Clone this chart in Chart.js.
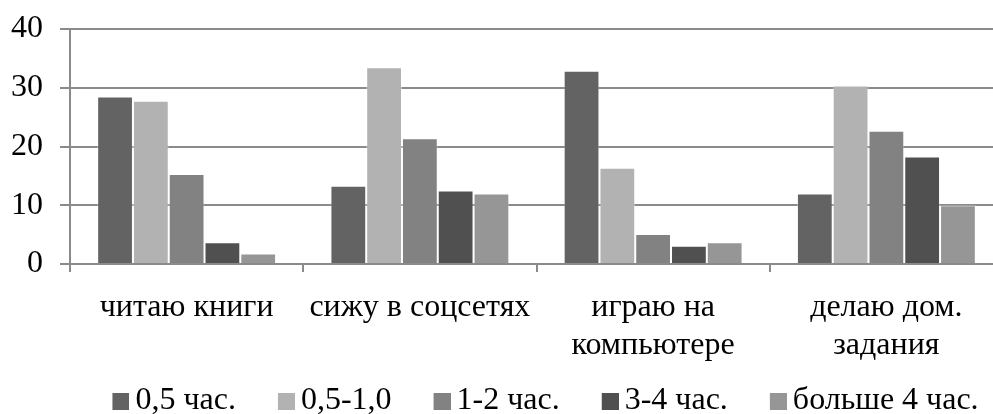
<!DOCTYPE html>
<html>
<head>
<meta charset="utf-8">
<script src="https://cdn.jsdelivr.net/npm/chart.js@4"></script>
<style>
  html, body { margin: 0; padding: 0; overflow: hidden; background: #fff; }
  #wrap { width: 1091px; height: 427px; }
</style>
</head>
<body>
<div id="wrap"><canvas id="chart" width="1091" height="427"></canvas></div>
<script>
// categories (x axis), multi-line as in the picture
const categories = [
    ['читаю книги'],
    ['сижу в соцсетях'],
    ['играю на', 'компьютере'],
    ['делаю дом.', 'задания']
];

// series names
const seriesNames = ['0,5 час.', '0,5-1,0', '1-2 час.', '3-4 час.', 'больше 4 час.'];

// values per series, one per category
const half = [28.5, 13.3, 32.9, 12.0];
const halfToOne = [27.8, 33.5, 16.4, 30.4];
const oneToTwo = [15.3, 21.4, 5.1, 22.7];
const threeToFour = [3.7, 12.5, 3.1, 18.3];
const moreThanFour = [1.8, 12.0, 3.7, 10.0];

const yTicks = [0, 10, 20, 30, 40];

const colors = ['#636363', '#b2b2b2', '#828282', '#505050', '#969696'];
const seriesValues = [half, halfToOne, oneToTwo, threeToFour, moreThanFour];

const font = 'Liberation Serif';
const axisGray = '#8a8a8a';

// legend swatches: square sits close to the text like in the original
function makeSwatch(color) {
    const c = document.createElement('canvas');
    c.width = 27;
    c.height = 17;
    const g = c.getContext('2d');
    g.fillStyle = color;
    g.fillRect(10, 0, 17, 17);
    return c;
}
const swatches = colors.map(makeSwatch);

// let the x labels run past the axis box (Chart.js clips them to it)
const unclipXLabels = {
    id: 'unclipXLabels',
    afterLayout(chart) {
        chart.scales.x.bottom = chart.height;
    }
};

new Chart(document.getElementById('chart').getContext('2d'), {
    type: 'bar',
    data: {
        labels: categories,
        datasets: seriesValues.map((vals, i) => ({
            label: seriesNames[i],
            data: vals,
            backgroundColor: colors[i],
            borderColor: 'rgba(255,255,255,0.35)',
            borderWidth: 1,
            categoryPercentage: 0.767,
            barPercentage: 1.0
        }))
    },
    plugins: [unclipXLabels],
    options: {
        responsive: false,
        animation: false,
        layout: { padding: { top: 29, left: 0, right: 0, bottom: 0 } },
        plugins: {
            legend: {
                display: true,
                position: 'bottom',
                labels: {
                    usePointStyle: true,
                    pointStyleWidth: 7,
                    boxHeight: 17,
                    padding: 42,
                    color: '#000',
                    font: { family: font, size: 32 },
                    generateLabels: chart =>
                        Chart.defaults.plugins.legend.labels.generateLabels(chart)
                            .map((item, i) => ({ ...item, pointStyle: swatches[i] }))
                }
            },
            tooltip: { enabled: false }
        },
        scales: {
            x: {
                offset: true,
                grid: {
                    offset: true,
                    drawOnChartArea: false,
                    drawTicks: true,
                    tickLength: 8,
                    color: axisGray,
                    lineWidth: 2
                },
                border: { display: true, color: axisGray, width: 2 },
                ticks: {
                    color: '#000',
                    padding: 16,
                    maxRotation: 0,
                    autoSkip: false,
                    font: { family: font, size: 32, lineHeight: 1.2 }
                },
                afterFit: s => { s.height = 79; }
            },
            y: {
                min: 0,
                max: 40,
                afterBuildTicks: s => { s.ticks = yTicks.map(v => ({ value: v })); },
                grid: {
                    color: axisGray,
                    lineWidth: 2,
                    tickLength: 10
                },
                border: { display: true, color: axisGray, width: 2 },
                ticks: {
                    color: '#000',
                    padding: 17,
                    font: { family: font, size: 32 }
                },
                afterFit: s => {
                    s.width = 70;
                    s.paddingTop = 0;
                    s.paddingBottom = 0;
                }
            },
            // empty right axis only to hold the plot's right edge
            yRight: {
                position: 'right',
                display: true,
                grid: { display: false },
                border: { display: false },
                ticks: { display: false },
                afterFit: s => { s.width = 88; }
            }
        }
    }
});
</script>
</body>
</html>
